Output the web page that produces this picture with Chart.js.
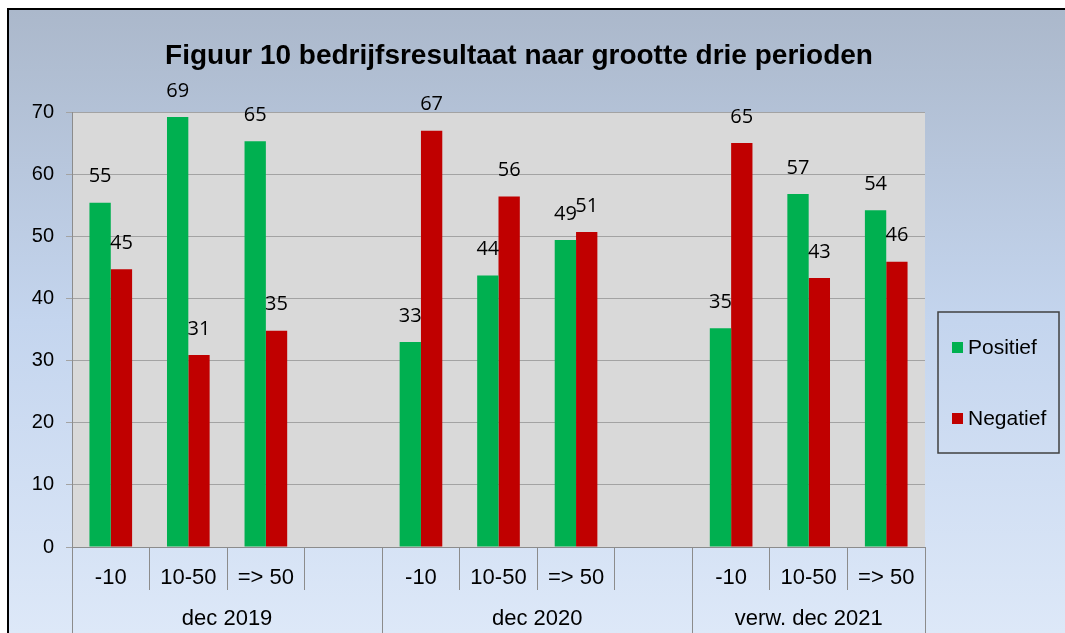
<!DOCTYPE html>
<html>
<head>
<meta charset="utf-8">
<script src="https://cdn.jsdelivr.net/npm/chart.js@4.4.1/dist/chart.umd.min.js"></script>
<style>
  html, body { margin: 0; padding: 0; background: #fff; }
  #frame {
    position: absolute; left: 7px; top: 8px; width: 1058px; height: 625px;
    box-sizing: border-box; border-left: 2px solid #000; border-top: 2px solid #000;
    background: linear-gradient(#abb8cb, #c4d5ee 50%, #dde8f8);
  }
  #wrap { position: absolute; left: 0; top: 0; width: 1065px; height: 633px; }
</style>
</head>
<body>
<div id="frame"></div>
<div id="wrap"><canvas id="chart" width="1065" height="633"></canvas></div>
<script>
const categories = ['-10', '10-50', '=> 50', '', '-10', '10-50', '=> 50', '', '-10', '10-50', '=> 50'];
const periods = ['dec 2019', 'dec 2020', 'verw. dec 2021'];
const periodStart = [0, 4, 8]; // first category of each period
const positief = [55.4, 69.2, 65.3, null, 33.0, 43.7, 49.4, null, 35.2, 56.8, 54.2];
const negatief = [44.7, 30.9, 34.8, null, 67.0, 56.4, 50.7, null, 65.0, 43.3, 45.9];
const yTicks = [0, 10, 20, 30, 40, 50, 60, 70];

const axisGray = '#8c8c8c';

// grey plot area
const plotBg = {
  id: 'plotBg',
  beforeDraw(chart) {
    const { ctx, chartArea: a } = chart;
    ctx.save();
    ctx.fillStyle = '#d9d9d9';
    ctx.fillRect(a.left, a.top, a.right - a.left, a.bottom - a.top);
    ctx.restore();
  }
};

// numbers above the bars
const valueLabels = {
  id: 'valueLabels',
  afterDatasetsDraw(chart) {
    const c = chart.ctx;
    c.save();
    c.font = '20px "Open Sans"';
    c.fillStyle = '#000';
    c.textAlign = 'center';
    c.textBaseline = 'middle';
    chart.data.datasets.forEach((ds, i) => {
      chart.getDatasetMeta(i).data.forEach((bar, j) => {
        if (ds.data[j] == null) return;
        c.fillText(Math.round(ds.data[j]), bar.x, bar.y - 26);
      });
    });
    c.restore();
  }
};

// second row of the x axis: periods
const periodAxis = {
  id: 'periodAxis',
  afterDraw(chart) {
    const x = chart.scales.x, c = chart.ctx;
    const bounds = periodStart.concat(categories.length);
    c.save();
    c.strokeStyle = axisGray;
    c.lineWidth = 1;
    bounds.forEach(b => {
      const px = Math.round(x.getPixelForValue(b - 0.5)) + 0.5;
      c.beginPath();
      c.moveTo(px, x.top);
      c.lineTo(px, chart.height);
      c.stroke();
    });
    c.font = '22px "Liberation Sans"';
    c.fillStyle = '#000';
    c.textAlign = 'center';
    c.textBaseline = 'middle';
    periods.forEach((p, i) => {
      const a = x.getPixelForValue(bounds[i] - 0.5);
      const b = x.getPixelForValue(bounds[i + 1] - 0.5);
      c.fillText(p, (a + b) / 2, x.top + 72);
    });
    c.restore();
  }
};

const titleText = {
  id: 'titleText',
  afterDraw(chart) {
    const c = chart.ctx;
    c.save();
    c.font = 'bold 28px "Liberation Sans"';
    c.fillStyle = '#000';
    c.textAlign = 'center';
    c.textBaseline = 'alphabetic';
    c.fillText('Figuur 10 bedrijfsresultaat naar grootte drie perioden', 519, 64);
    c.restore();
  }
};

// boxed legend on the right
const boxLegend = {
  id: 'boxLegend',
  afterDraw(chart) {
    const c = chart.ctx;
    const left = chart.chartArea.right + 13, top = 312;
    c.save();
    c.strokeStyle = '#404040';
    c.lineWidth = 1.5;
    c.strokeRect(left, top, 121, 141);
    c.font = '21px "Liberation Sans"';
    c.textBaseline = 'middle';
    chart.data.datasets.forEach((ds, i) => {
      const y = top + 35 + i * 71;
      c.fillStyle = ds.backgroundColor;
      c.fillRect(left + 14, y - 5, 11, 11);
      c.fillStyle = '#000';
      c.fillText(ds.label, left + 30, y + 1);
    });
    c.restore();
  }
};

const ctx = document.getElementById('chart').getContext('2d');

new Chart(ctx, {
  type: 'bar',
  data: {
    labels: categories,
    datasets: [
      { label: 'Positief', data: positief, backgroundColor: '#00b050' },
      { label: 'Negatief', data: negatief, backgroundColor: '#c00000' }
    ]
  },
  options: {
    responsive: false,
    animation: false,
    layout: { padding: { top: 112, right: 140, left: 0, bottom: 0 } },
    datasets: { bar: { categoryPercentage: 0.55, barPercentage: 1 } },
    plugins: {
      legend: { display: false },
      tooltip: { enabled: false }
    },
    scales: {
      x: {
        grid: { offset: true, drawOnChartArea: false, tickLength: 43, color: axisGray },
        border: { color: axisGray },
        ticks: {
          padding: -25, color: '#000', maxRotation: 0, autoSkip: false,
          font: { family: 'Liberation Sans', size: 22 }
        },
        afterFit: s => { s.height = 86; }
      },
      y: {
        min: 0,
        max: 70,
        afterBuildTicks: s => { s.ticks = yTicks.map(v => ({ value: v })); },
        grid: { color: '#a3a3a3', tickLength: 6 },
        border: { color: axisGray },
        ticks: { padding: 12, color: '#000', font: { family: 'Liberation Sans', size: 20 } },
        afterFit: s => { s.width = 72; }
      }
    }
  },
  plugins: [plotBg, valueLabels, periodAxis, titleText, boxLegend]
});
</script>
</body>
</html>
